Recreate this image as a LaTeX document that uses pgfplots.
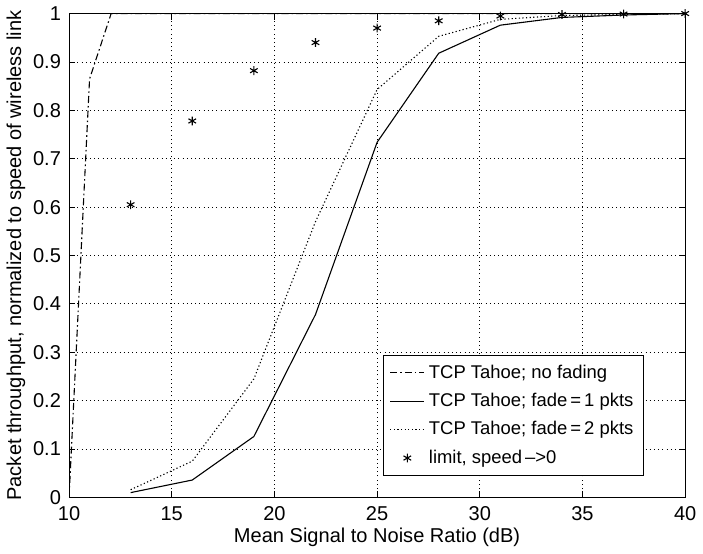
\documentclass[border=0pt]{standalone}
\usepackage{fontspec}
\setmainfont{Liberation Sans}
\usepackage{pgfplots}
\pgfplotsset{compat=1.18}

\begin{document}
\begin{tikzpicture}[font=\fontsize{10pt}{11.5pt}\selectfont]
\begin{axis}[
  scale only axis,
  width=307.5pt, height=241.5pt,
  xmin=10, xmax=40, ymin=0, ymax=1,
  xtick={10,15,...,40},
  ytick={0,0.1,...,1.0},
  xtick pos=both, ytick pos=both,
  tick align=inside,
  major tick length=3pt,
  tick style={black, line width=0.4pt},
  axis line style={line width=0.5pt},
  grid=major,
  major grid style={black, line width=0.4pt, dash pattern=on 0.5pt off 1.6pt},
  /pgf/number format/assume math mode=true,
  ticklabel style={font=\fontsize{10pt}{11.5pt}\selectfont},
  xticklabel style={yshift=-1.2pt},
  yticklabel style={xshift=-0.5pt},
  label style={font=\fontsize{10pt}{11.5pt}\selectfont},
  xlabel={Mean Signal to Noise Ratio (dB)},
  ylabel={Packet throughput, normalized to speed of wireless link},
  xlabel style={yshift=3.5pt},
  ylabel style={yshift=-3pt},
  legend style={
    at={(0.933,0.294)}, anchor=north east,
    draw=black, line width=0.5pt, fill=white,
    font=\fontsize{9.2pt}{10.2pt}\selectfont,
    cells={anchor=west},
    row sep=2pt,
    inner xsep=3pt, inner ysep=2.5pt,
  },
  legend image post style={line width=0.5pt},
]
\addplot[black, line width=0.55pt, dash pattern=on 3.5pt off 1.5pt on 0.8pt off 1.5pt]
  coordinates {(10,0) (11,0.865) (12.05,1) (13,1) (16,1) (19,1) (22,1) (25,1) (28,1) (31,1) (34,1) (37,1) (40,1)};
\addlegendentry{TCP Tahoe; no fading}
\addplot[black, line width=0.55pt]
  coordinates {(13,0.01) (16,0.036) (19,0.126) (22,0.378) (25,0.734) (28,0.918) (31,0.976) (34,0.992) (37,0.997) (40,1.0)};
\addlegendentry{TCP Tahoe; fade\,=\,1 pkts}
\addplot[black, line width=0.55pt, dash pattern=on 0.6pt off 1.2pt]
  coordinates {(13,0.016) (16,0.075) (19,0.245) (22,0.57) (25,0.843) (28,0.953) (31,0.988) (34,0.996) (37,0.998) (40,1.0)};
\addlegendentry{TCP Tahoe; fade\,=\,2 pkts}
\addplot[black, only marks, mark=asterisk, mark size=2.2pt, mark options={line width=0.55pt}]
  coordinates {(13,0.605) (16,0.778) (19,0.882) (22,0.94) (25,0.97) (28,0.985) (31,0.995) (34,0.998) (37,0.999) (40,1.0)};
\addlegendentry{limit, speed\,-->0}
\end{axis}
\end{tikzpicture}
\end{document}
